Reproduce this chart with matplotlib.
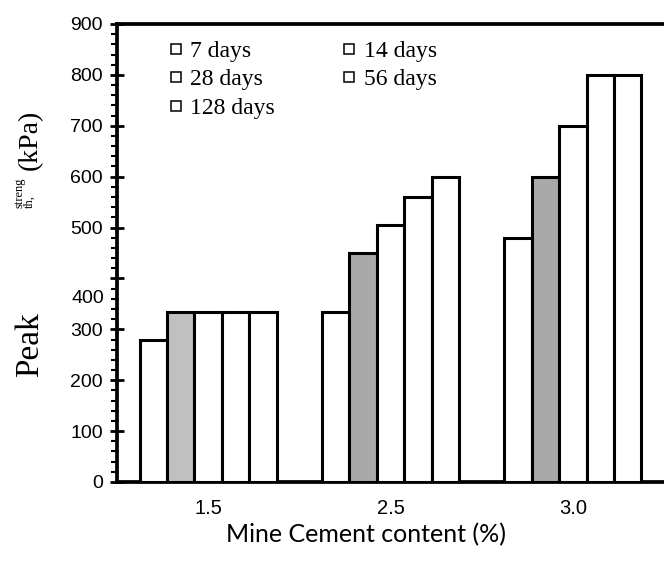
import numpy as np
import matplotlib
matplotlib.use('Agg')
import matplotlib.pyplot as plt
from matplotlib.pyplot import MultipleLocator
from matplotlib.lines import Line2D

# 无侧限抗压强度 vs 水泥掺量
cement = ['1.5', '2.5', '3.0']
ages = ['7 days', '14 days', '28 days', '56 days', '128 days']
s7 = [280, 335, 480]
s14 = [335, 450, 600]
s28 = [335, 505, 700]
s56 = [335, 560, 800]
s128 = [335, 600, 800]
yticks = [0, 100, 200, 300, 400, 500, 600, 700, 800, 900]

series = [s7, s14, s28, s56, s128]
grey14 = ['#c0c0c0', '#a9a9a9', '#a9a9a9']

fig = plt.figure(figsize=(6.64, 5.61), dpi=100)
ax = fig.add_axes([117 / 664, 1 - 482 / 561, 547 / 664, 458 / 561])

x = np.arange(len(cement))
w = 0.15
for k, vals in enumerate(series):
    fc = grey14 if k == 1 else ['white'] * len(cement)
    ax.bar(x + (k - 2) * w, vals, width=w, color=fc,
           edgecolor='black', linewidth=2.2, zorder=3)

ax.set_xlim(-0.5, 2.5)
ax.set_ylim(0, 900)
ax.set_xticks(x)
ax.set_xticklabels(cement, fontfamily='Liberation Sans', fontsize=14.5)
ax.tick_params(axis='x', length=0, pad=12)

ax.set_yticks(yticks)
ax.set_yticklabels(['' if v == 400 else str(v) for v in yticks],
                   fontfamily='Liberation Sans', fontsize=14)
ax.yaxis.set_minor_locator(MultipleLocator(20))
ax.tick_params(axis='y', which='major', direction='inout', length=10, width=2, pad=5)
ax.tick_params(axis='y', which='minor', direction='out', length=4.5, width=1.5)
# 400 的标签偏下
ax.text(-0.024, 360, '400', transform=ax.get_yaxis_transform(),
        ha='right', va='center', fontfamily='Liberation Sans', fontsize=14)

for side in ['left', 'bottom', 'top']:
    ax.spines[side].set_linewidth(2.7)
ax.spines['right'].set_visible(False)

ax.set_xlabel('Mine Cement content (%)', fontfamily='Lato', fontsize=18)
ax.xaxis.set_label_coords(0.455, -0.09)

# 纵轴标题分段
fig.text(30 / 664, 1 - 345 / 561, 'Peak', rotation=90, ha='center', va='center',
         fontfamily='Liberation Serif', fontsize=24)
fig.text(30 / 664, 1 - 140 / 561, '(kPa)', rotation=90, ha='center', va='center',
         fontfamily='Liberation Serif', fontsize=20)
fig.text(24.5 / 664, 1 - 208 / 561, 'streng\nth,', rotation=90, ha='center', va='bottom',
         multialignment='left', linespacing=0.75,
         fontfamily='Liberation Serif', fontsize=9)

handles = [Line2D([], [], linestyle='none', marker='s', markersize=7.5,
                  markerfacecolor='white', markeredgecolor='black', markeredgewidth=1.1)
           for _ in ages]
order = [0, 2, 4, 1, 3]
ax.legend([handles[i] for i in order], [ages[i] for i in order], ncol=2,
          loc='upper left', bbox_to_anchor=(0.08, 0.985), frameon=False,
          prop={'family': 'Liberation Serif', 'size': 17},
          handlelength=0.5, handletextpad=0.35, columnspacing=2.9,
          labelspacing=0.3, borderaxespad=0)

fig.savefig('out.png', dpi=100)
